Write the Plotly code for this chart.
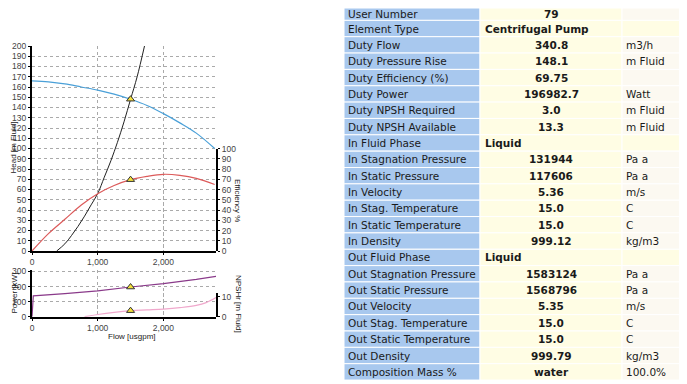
import plotly.graph_objects as go

# ---------------- data ----------------
flow_head = [0, 250, 500, 750, 1000, 1250, 1500, 1750, 2000, 2250, 2500, 2780]
head_m = [166, 165, 163, 160, 157, 153, 148, 142, 134, 125, 115, 100]

flow_sys = [376, 500, 600, 700, 800, 900, 1000, 1100, 1200, 1300, 1400, 1500, 1600, 1712]
head_sys = [0, 7, 15, 24, 34, 45, 56, 72, 88, 106, 126, 148, 170, 200]

flow_eff = [0, 250, 500, 750, 1000, 1250, 1500, 1750, 2000, 2250, 2500, 2780]
eff_pct = [0, 17, 31, 45, 56, 64, 69.75, 73, 75, 74, 71, 65]

flow_pow = [0, 20, 500, 1000, 1500, 2000, 2500, 2800]
power_kw = [0, 138, 153, 171, 197, 220, 248, 268]

flow_npsh = [800, 1000, 1250, 1500, 1750, 2000, 2250, 2500, 2650, 2800]
npsh_m = [0, 1.1, 2.2, 3.0, 3.4, 3.8, 4.5, 5.6, 7.0, 9.5]

duty_flow = [1500]
duty_head = [148.1]
duty_eff = [69.75]
duty_power = [197.0]
duty_npsh = [3.0]

x_ticks = [0, 1000, 2000]

tbl_labels = ["User Number", "Element Type", "Duty Flow", "Duty Pressure Rise",
              "Duty Efficiency (%)", "Duty Power", "Duty NPSH Required",
              "Duty NPSH Available", "In Fluid Phase", "In Stagnation Pressure",
              "In Static Pressure", "In Velocity", "In Stag. Temperature",
              "In Static Temperature", "In Density", "Out Fluid Phase",
              "Out Stagnation Pressure", "Out Static Pressure", "Out Velocity",
              "Out Stag. Temperature", "Out Static Temperature", "Out Density",
              "Composition Mass %"]
tbl_values = ["79", "Centrifugal Pump", "340.8", "148.1", "69.75", "196982.7", "3.0",
              "13.3", "Liquid", "131944", "117606", "5.36", "15.0", "15.0", "999.12",
              "Liquid", "1583124", "1568796", "5.35", "15.0", "15.0", "999.79", "water"]
tbl_units = ["", "", "m3/h", "m Fluid", "", "Watt", "m Fluid", "m Fluid", "", "Pa a",
             "Pa a", "m/s", "C", "C", "kg/m3", "", "Pa a", "Pa a", "m/s", "C", "C",
             "kg/m3", "100.0%"]

# ---------------- figure ----------------
W, H = 687, 384
OFF = 8  # page body margin: the figure is drawn 8 px in from the window corner
def px_x(p): return (p - OFF) / W
def px_y(p): return 1 - (p - OFF) / H

fig = go.Figure()

tri = dict(symbol="triangle-up", size=7, color="#f5e03a", line=dict(color="#333", width=1))

fig.add_trace(go.Scatter(x=flow_head, y=head_m, mode="lines", line=dict(color="#4aa0d8", width=1.2, shape="spline"),
                         xaxis="x", yaxis="y", showlegend=False))
fig.add_trace(go.Scatter(x=flow_sys, y=head_sys, mode="lines", line=dict(color="#222", width=1, shape="spline"),
                         xaxis="x", yaxis="y", showlegend=False))
fig.add_trace(go.Scatter(x=duty_flow, y=duty_head, mode="markers", marker=tri,
                         xaxis="x", yaxis="y", showlegend=False))
fig.add_trace(go.Scatter(x=flow_eff, y=eff_pct, mode="lines", line=dict(color="#dc5a5a", width=1.2, shape="spline"),
                         xaxis="x", yaxis="y3", showlegend=False))
fig.add_trace(go.Scatter(x=duty_flow, y=duty_eff, mode="markers", marker=tri,
                         xaxis="x", yaxis="y3", showlegend=False))
fig.add_trace(go.Scatter(x=flow_pow, y=power_kw, mode="lines", line=dict(color="#8a3a8a", width=1.2),
                         xaxis="x2", yaxis="y2", showlegend=False))
fig.add_trace(go.Scatter(x=duty_flow, y=duty_power, mode="markers", marker=tri,
                         xaxis="x2", yaxis="y2", showlegend=False))
fig.add_trace(go.Scatter(x=flow_npsh, y=npsh_m, mode="lines", line=dict(color="#f0a8cc", width=1.2, shape="spline"),
                         xaxis="x2", yaxis="y4", showlegend=False))
fig.add_trace(go.Scatter(x=duty_flow, y=duty_npsh, mode="markers", marker=tri,
                         xaxis="x2", yaxis="y4", showlegend=False))

axfont = dict(family="Liberation Sans, Arial", size=8.5, color="#444")
grid = dict(showgrid=True, gridcolor="#aaaaaa", griddash="dot", gridwidth=1)
line = dict(showline=True, linecolor="#000", linewidth=2, ticks="outside", ticklen=2,
            tickcolor="#000", zeroline=False, tickfont=axfont, automargin=False)

xdom = [px_x(32), px_x(216)]
fig.update_layout(
    width=W, height=H, margin=dict(l=0, r=0, t=0, b=0),
    paper_bgcolor="white", plot_bgcolor="rgba(0,0,0,0)",
    hovermode=False,
    xaxis=dict(domain=xdom, range=[0, 2800], anchor="y", tickvals=x_ticks, tickformat=",", **grid, **line),
    yaxis=dict(domain=[px_y(251), px_y(46)], range=[0, 200], dtick=10, anchor="x", **grid, **line),
    yaxis3=dict(domain=[px_y(251), px_y(148.7)], range=[0, 100], dtick=10, anchor="x", side="right",
                showgrid=False, **line),
    xaxis2=dict(domain=xdom, range=[0, 2800], anchor="y2", tickvals=x_ticks, tickformat=",", **grid, **line),
    yaxis2=dict(domain=[px_y(316.7), px_y(270)], range=[0, 310], tickvals=[0, 100, 200, 300], anchor="x2",
                **grid, **line),
    yaxis4=dict(domain=[px_y(316.7), px_y(293)], range=[0, 11.8], tickvals=[0, 10], anchor="x2", side="right",
                showgrid=False, **line),
)

tfont = dict(family="Liberation Sans, Arial", size=8, color="#222")
ann = [
    dict(text="Head [m Fluid]", x=px_x(OFF), y=px_y(148), textangle=-90, xanchor="left"),
    dict(text="Efficiency %", x=px_x(238), y=px_y(200), textangle=90, xanchor="center"),
    dict(text="Power [kW]", x=px_x(OFF), y=px_y(293), textangle=-90, xanchor="left"),
    dict(text="NPSHr [m Fluid]", x=px_x(239), y=px_y(304), textangle=90, xanchor="center"),
    dict(text="Flow [usgpm]", x=px_x(132), y=px_y(336), textangle=0, xanchor="center"),
]
for a in ann:
    fig.add_annotation(xref="paper", yref="paper", showarrow=False, font=tfont, borderpad=0,
                       yanchor="middle", **a)

# ---------------- table (built from the lists) ----------------
tbl_top, row_h = 4.0, 16.35
col_edges = [344, 480, 622, 683]
left_rows = {"Centrifugal Pump", "Liquid"}
c_label, c_val, c_unit = "#a8c8ee", "#fffde4", "#fcf9f1"
tbl_font = dict(family="DejaVu Sans", size=10.5, color="#1a1a1a")
for i, (lab, val, unit) in enumerate(zip(tbl_labels, tbl_values, tbl_units)):
    y0 = tbl_top + i * row_h
    y1 = y0 + row_h
    fills = [c_label, c_val, c_val if val in left_rows else c_unit]
    for c in range(3):
        fig.add_shape(type="rect", xref="paper", yref="paper",
                      x0=px_x(col_edges[c]), x1=px_x(col_edges[c + 1]),
                      y0=px_y(y1), y1=px_y(max(y0, OFF)),
                      fillcolor=fills[c], line=dict(color="white", width=1), layer="below")
    yc = px_y(max((y0 + y1) / 2, OFF + 6))
    fig.add_annotation(xref="paper", yref="paper", x=px_x(col_edges[0] + 3), y=yc, text=lab,
                       showarrow=False, xanchor="left", yanchor="middle", font=tbl_font, borderpad=0)
    if val in left_rows:
        fig.add_annotation(xref="paper", yref="paper", x=px_x(col_edges[1] + 4), y=yc,
                           text="<b>" + val + "</b>", showarrow=False, xanchor="left",
                           yanchor="middle", font=tbl_font, borderpad=0)
    else:
        fig.add_annotation(xref="paper", yref="paper", x=px_x((col_edges[1] + col_edges[2]) / 2), y=yc,
                           text="<b>" + val + "</b>", showarrow=False, xanchor="center",
                           yanchor="middle", font=tbl_font, borderpad=0)
    if unit:
        fig.add_annotation(xref="paper", yref="paper", x=px_x(col_edges[2] + 3), y=yc, text=unit,
                           showarrow=False, xanchor="left", yanchor="middle", font=tbl_font, borderpad=0)

fig.write_html("out.html")
